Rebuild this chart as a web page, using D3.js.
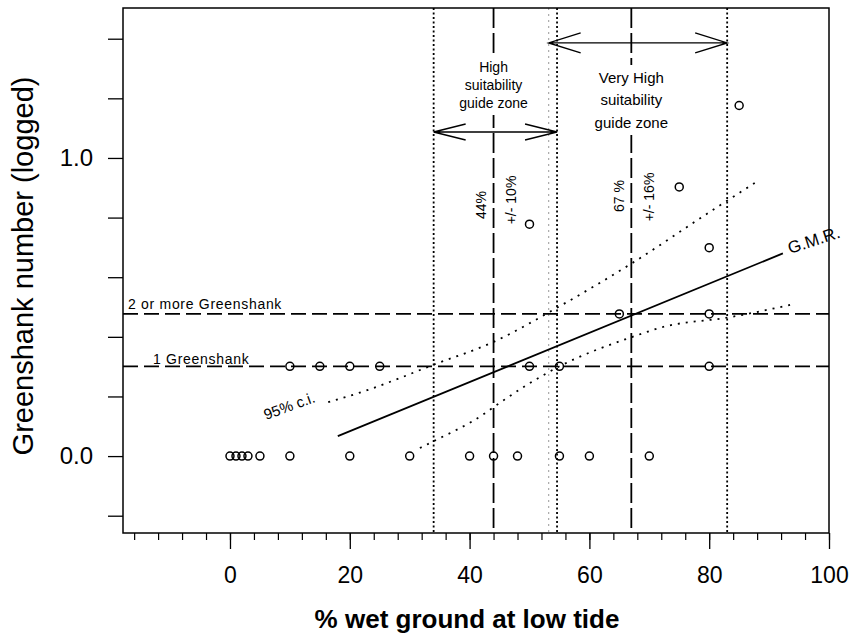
<!DOCTYPE html>
<html>
<head>
<meta charset="utf-8">
<script src="https://cdn.jsdelivr.net/npm/d3@7"></script>
<style>
  body { margin: 0; background: #fff; }
  text { font-family: "Liberation Sans", Arial, sans-serif; fill: #000; }
</style>
</head>
<body>
<div class="chart"></div>
<script>
// observations: % wet ground vs logged greenshank number
var pctWet   = [0, 1, 2, 3, 5, 10, 20, 30, 40, 44, 48, 55, 60, 70,
                10, 15, 20, 25, 50, 55, 80,
                65, 80, 80, 50, 75, 85];
var logCount = [0, 0, 0, 0, 0, 0, 0, 0, 0, 0, 0, 0, 0, 0,
                0.301, 0.301, 0.301, 0.301, 0.301, 0.301, 0.301,
                0.477, 0.477, 0.699, 0.778, 0.903, 1.176];

// G.M.R. fit and 95% c.i. band
var gmrX = [18, 92.3];
var gmrY = [0.067, 0.68];
var ciUpX = [16.4, 22.9, 28.4, 33.4, 44, 54.8, 67.2, 80.1, 87.6];
var ciUpY = [0.181, 0.221, 0.262, 0.302, 0.383, 0.5, 0.648, 0.819, 0.916];
var ciLoX = [31.7, 33.4, 42.6, 44, 54.8, 67.2, 72.3, 83.5, 93.5];
var ciLoY = [0.027, 0.044, 0.144, 0.164, 0.299, 0.4, 0.433, 0.466, 0.507];

// reference lines
var countLevels = [0.301, 0.477];
var countNames  = ["1 Greenshank", "2 or more Greenshank"];
var optima      = [44, 67];
var optimaText  = ["44%", "67 %"];
var rangeText   = ["+/- 10%", "+/- 16%"];
var zoneEdges   = [34, 54.6, 83];
var faintEdge   = [53.2];
var zoneFrom    = [34, 53.2];
var zoneTo      = [54.6, 83];
var zoneLines   = [["High", "suitability", "guide zone"], ["Very High", "suitability", "guide zone"]];

// ticks
var xTicks  = d3.range(-16, 101, 4);
var xLabels = [0, 20, 40, 60, 80, 100];
var yTicks  = [-0.2, 0, 0.2, 0.4, 0.6, 0.8, 1.0, 1.2, 1.4];
var yLabels = [0, 1];

var svg = d3.select(".chart")
  .append("svg")
  .attr("width", 853)
  .attr("height", 638);

var x = d3.scaleLinear().domain([-17.86, 100]).range([123, 829]);
var y = d3.scaleLinear().domain([-0.258, 1.503]).range([533, 8]);

var line = d3.line().x(function(d){ return x(d[0]); }).y(function(d){ return y(d[1]); });

// axes
var yAxis = d3.axisLeft(y).tickValues(yTicks).tickSize(15).tickPadding(15)
  .tickFormat(function(d){ return yLabels.indexOf(d) >= 0 ? d3.format(".1f")(d) : ""; });
var gy = svg.append("g").attr("transform", "translate(123,0)").call(yAxis);
gy.select(".domain").remove();
gy.selectAll("line").attr("stroke-width", 1.3);
gy.selectAll("text").attr("font-size", 24).attr("font-family", "Liberation Sans, Arial");

var gxMinor = svg.append("g").attr("transform", "translate(0,533)")
  .call(d3.axisBottom(x).tickValues(xTicks).tickSize(7).tickFormat(""));
gxMinor.select(".domain").remove();
gxMinor.selectAll("line").attr("stroke-width", 1.2);

var gx = svg.append("g").attr("transform", "translate(0,533)")
  .call(d3.axisBottom(x).tickValues(xLabels).tickSize(16).tickPadding(18).tickFormat(d3.format("d")));
gx.select(".domain").remove();
gx.selectAll("line").attr("stroke-width", 1.3);
gx.selectAll("text").attr("font-size", 23).attr("font-family", "Liberation Sans, Arial");

// axis titles
svg.append("text")
  .attr("x", 467).attr("y", 628)
  .attr("text-anchor", "middle")
  .attr("font-size", 26).attr("font-weight", "bold")
  .text("% wet ground at low tide");

svg.append("text")
  .attr("transform", "translate(33,266) rotate(-90)")
  .attr("text-anchor", "middle")
  .attr("font-size", 29)
  .text("Greenshank number (logged)");

var plot = svg.append("g");

// vertical zone edges (dotted)
plot.selectAll(".edge").data(zoneEdges).enter().append("line")
  .attr("x1", function(d){ return x(d); }).attr("x2", function(d){ return x(d); })
  .attr("y1", y.range()[1]).attr("y2", y.range()[0])
  .attr("stroke", "#000").attr("stroke-width", 1.8).attr("stroke-dasharray", "2,2.5");
plot.selectAll(".faint").data(faintEdge).enter().append("line")
  .attr("x1", function(d){ return x(d); }).attr("x2", function(d){ return x(d); })
  .attr("y1", y.range()[1]).attr("y2", y.range()[0])
  .attr("stroke", "#aaa").attr("stroke-width", 1.2).attr("stroke-dasharray", "2,4");

// optimum lines (long dash)
plot.selectAll(".opt").data(optima).enter().append("line")
  .attr("x1", function(d){ return x(d); }).attr("x2", function(d){ return x(d); })
  .attr("y1", y.range()[1]).attr("y2", y.range()[0])
  .attr("stroke", "#000").attr("stroke-width", 1.8).attr("stroke-dasharray", "20,5");

// horizontal count lines (dashed)
plot.selectAll(".lvl").data(countLevels).enter().append("line")
  .attr("x1", x.range()[0]).attr("x2", x.range()[1])
  .attr("y1", function(d){ return y(d); }).attr("y2", function(d){ return y(d); })
  .attr("stroke", "#000").attr("stroke-width", 1.6).attr("stroke-dasharray", "15,6");

// zone text blocks with white backing
var zoneCenter = [44, 67];
var zoneBase = [[72, 90, 108], [83, 105, 128]];
var zoneFont = [14, 15];
zoneLines.forEach(function(lines, i){
  var g = plot.append("g");
  var bg = g.append("rect").attr("fill", "#fff");
  lines.forEach(function(t, j){
    g.append("text")
      .attr("x", x(zoneCenter[i])).attr("y", zoneBase[i][j])
      .attr("text-anchor", "middle").attr("font-size", zoneFont[i])
      .text(t);
  });
  var b = g.node().getBBox();
  bg.attr("x", b.x - 4).attr("y", b.y - 4).attr("width", b.width + 8).attr("height", b.height + 8);
});

// zone arrows
var arrowY = [1.087, 1.386];
zoneFrom.forEach(function(f, i){
  var x1 = x(f), x2 = x(zoneTo[i]), yy = y(arrowY[i]);
  var hl = 32, hw = i === 0 ? 8 : 10;
  plot.append("path")
    .attr("d", "M" + x1 + "," + yy + "H" + x2 +
               "M" + (x1 + hl) + "," + (yy - hw) + "L" + x1 + "," + yy + "L" + (x1 + hl) + "," + (yy + hw) +
               "M" + (x2 - hl) + "," + (yy - hw) + "L" + x2 + "," + yy + "L" + (x2 - hl) + "," + (yy + hw))
    .attr("fill", "none").attr("stroke", "#000").attr("stroke-width", 1.4);
});

// rotated optimum labels
optima.forEach(function(o, i){
  plot.append("text")
    .attr("transform", "translate(" + (x(o) - 12) + "," + (i === 0 ? 205 : 196) + ") rotate(-90)")
    .attr("text-anchor", "middle").attr("dy", "0.35em").attr("font-size", 14)
    .text(optimaText[i]);
  plot.append("text")
    .attr("transform", "translate(" + (x(o) + 18) + "," + (i === 0 ? 200 : 197) + ") rotate(-90)")
    .attr("text-anchor", "middle").attr("dy", "0.35em").attr("font-size", 14)
    .text(rangeText[i]);
});

// count labels
plot.append("text").attr("x", 128).attr("y", y(countLevels[1]) - 5)
  .attr("font-size", 14).attr("letter-spacing", 0.7).text(countNames[1]);
plot.append("text").attr("x", 153).attr("y", y(countLevels[0]) - 2)
  .attr("font-size", 14).attr("letter-spacing", 0.7).text(countNames[0]);

// c.i. curves
plot.append("path").datum(d3.zip(ciUpX, ciUpY)).attr("d", line.curve(d3.curveMonotoneX))
  .attr("fill", "none").attr("stroke", "#000").attr("stroke-width", 1.8).attr("stroke-dasharray", "2,6");
plot.append("path").datum(d3.zip(ciLoX, ciLoY)).attr("d", line.curve(d3.curveMonotoneX))
  .attr("fill", "none").attr("stroke", "#000").attr("stroke-width", 1.8).attr("stroke-dasharray", "2,6");

// G.M.R. line
plot.append("path").datum(d3.zip(gmrX, gmrY)).attr("d", line.curve(d3.curveLinear))
  .attr("fill", "none").attr("stroke", "#000").attr("stroke-width", 1.8);

plot.append("text")
  .attr("transform", "translate(790,254) rotate(-18)")
  .attr("font-size", 17).text("G.M.R.");
plot.append("text")
  .attr("transform", "translate(266,420) rotate(-20)")
  .attr("font-size", 15).text("95% c.i.");

// points
plot.selectAll(".pt").data(d3.zip(pctWet, logCount)).enter().append("circle")
  .attr("cx", function(d){ return x(d[0]); })
  .attr("cy", function(d){ return y(d[1]); })
  .attr("r", 4)
  .attr("fill", "none").attr("stroke", "#000").attr("stroke-width", 1.5);

// frame
svg.append("rect")
  .attr("x", x.range()[0]).attr("y", y.range()[1])
  .attr("width", x.range()[1] - x.range()[0]).attr("height", y.range()[0] - y.range()[1])
  .attr("fill", "none").attr("stroke", "#000").attr("stroke-width", 1.5);
</script>
</body>
</html>
